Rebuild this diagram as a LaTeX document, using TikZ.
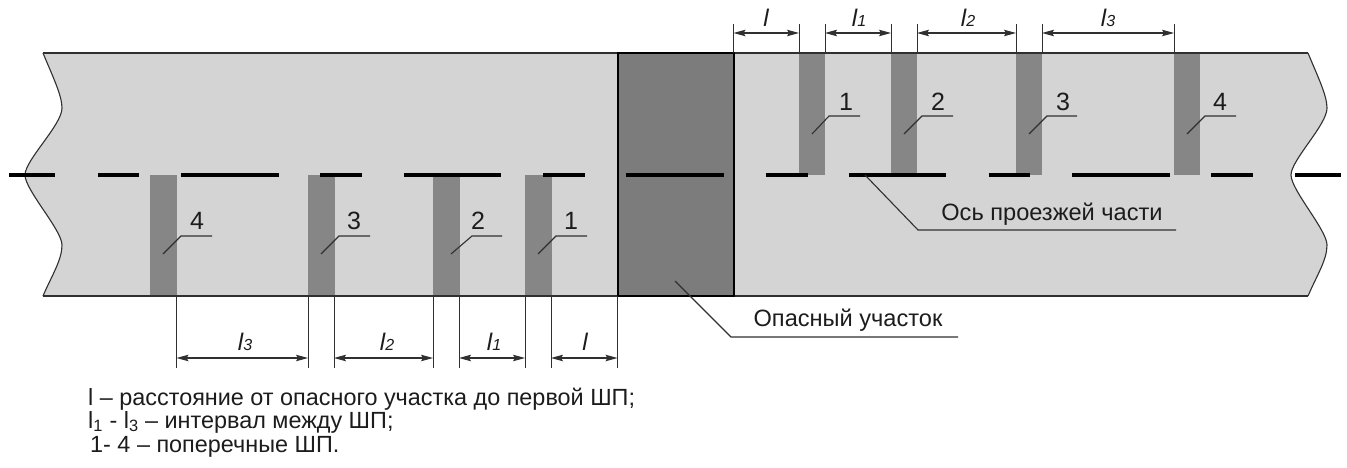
\documentclass[tikz,border=0pt]{standalone}
\usepackage{fontspec}
\setmainfont{Liberation Sans}
\usetikzlibrary{arrows.meta}
\definecolor{roadc}{HTML}{D4D4D4}
\definecolor{barc}{HTML}{868686}
\definecolor{hazc}{HTML}{7C7C7C}
\definecolor{edgec}{HTML}{303030}
\definecolor{txtc}{HTML}{1C1C1C}
\tikzset{
  x=1pt,y=-1pt,
  axisdash/.style={line width=3.8pt,black},
  roadedge/.style={line width=1.4pt,edgec},
  wave/.style={line width=1.1pt,edgec},
  stripe/.style={fill=barc,draw=none},
  leader/.style={line width=1.1pt,edgec},
  extline/.style={line width=0.95pt,edgec},
  dimline/.style={line width=1.1pt,edgec,{Stealth[length=12pt,width=6.5pt,inset=2pt]}-{Stealth[length=12pt,width=6.5pt,inset=2pt]}},
  numlab/.style={font=\fontsize{25}{27}\selectfont,text=txtc,inner sep=0pt},
  lab/.style={font=\fontsize{23.6}{26}\selectfont,text=txtc,inner sep=0pt},
  dimlab/.style={font=\fontsize{24}{26}\selectfont\itshape,text=txtc,inner sep=0pt},
  captxt/.style={font=\fontsize{23.4}{26}\selectfont,text=txtc,inner sep=0pt,anchor=base west},
}
\newcommand{\subl}[1]{l\kern0.2pt{\fontsize{16}{18}\selectfont #1}}
\begin{document}
\begin{tikzpicture}
\useasboundingbox[fill=white] (0,0) rectangle (1347,468);
% road
\fill[roadc] (43,53) .. controls (52,75) and (62,95) .. (62,108) .. controls (62,125) and (25,160) .. (25,175) .. controls (25,190) and (62,230) .. (62,245) .. controls (62,260) and (52,275) .. (43,296)
 -- (1308,296) .. controls (1317,275) and (1327,260) .. (1327,245) .. controls (1327,230) and (1291,190) .. (1291,175) .. controls (1291,160) and (1327,125) .. (1327,108) .. controls (1327,95) and (1317,75) .. (1308,53) -- cycle;
% stripes
\foreach \a in {150,308,433,525} \fill[stripe] (\a,175) rectangle (\a+26.5,296);
\foreach \a in {799,891,1016,1174} \fill[stripe] (\a,53) rectangle (\a+26,175);
% road edges
\draw[wave] (43,53) .. controls (52,75) and (62,95) .. (62,108) .. controls (62,125) and (25,160) .. (25,175) .. controls (25,190) and (62,230) .. (62,245) .. controls (62,260) and (52,275) .. (43,296);
\draw[wave] (1308,53) .. controls (1317,75) and (1327,95) .. (1327,108) .. controls (1327,125) and (1291,160) .. (1291,175) .. controls (1291,190) and (1327,230) .. (1327,245) .. controls (1327,260) and (1317,275) .. (1308,296);
\draw[roadedge] (43,53) -- (1308,53);
\draw[roadedge] (43,296) -- (1308,296);
% hazard
\node[draw=black,line width=2pt,fill=hazc,minimum width=116pt,minimum height=243pt,inner sep=0pt,anchor=north west] (haz) at (616.5,52) {};
% axis
\foreach \a/\b in {9/55,98/139,181/279,320/362,404/501,543/585,626/724,766/808,849/946,989/1030,1072/1170,1211/1253,1295/1341}
  \draw[axisdash] (\a,175) -- (\b,175);
% extension lines top
\foreach \a in {733.5,799,825,891,917,1016,1042,1174}
  \draw[extline] (\a,24) -- (\a,53);
% extension lines bottom
\foreach \a in {176.5,308,334,433,459,525,551,617.5}
  \draw[extline] (\a,296) -- (\a,368);
% dims
\coordinate (ta0) at (733.5,33); \coordinate (tb0) at (799,33);
\coordinate (ta1) at (825,33); \coordinate (tb1) at (891,33);
\coordinate (ta2) at (917,33); \coordinate (tb2) at (1016,33);
\coordinate (ta3) at (1042,33); \coordinate (tb3) at (1174,33);
\coordinate (ba3) at (176.5,358); \coordinate (bb3) at (308,358);
\coordinate (ba2) at (334,358); \coordinate (bb2) at (433,358);
\coordinate (ba1) at (459,358); \coordinate (bb1) at (525,358);
\coordinate (ba0) at (551,358); \coordinate (bb0) at (617.5,358);
\foreach \i in {0,1,2,3} {
  \draw[dimline] (ta\i) -- (tb\i);
  \draw[dimline] (ba\i) -- (bb\i);
}
\node[dimlab] (tl0) at (766,18) {l};
\node[dimlab] (tl1) at (859,18) {\subl{1}};
\node[dimlab] (tl2) at (968,18) {\subl{2}};
\node[dimlab] (tl3) at (1108,18) {\subl{3}};
\node[dimlab] (bl3) at (245,342) {\subl{3}};
\node[dimlab] (bl2) at (387,342) {\subl{2}};
\node[dimlab] (bl1) at (494,342) {\subl{1}};
\node[dimlab] (bl0) at (585,342) {l};
% stripe numbers and leaders
\foreach \tip/\kn/\en/\tx/\n/\nm in {812/829/860/846/1/ra,904/922/953/938/2/rb,1029/1047/1077/1063/3/rc,1187/1205/1236/1220/4/rd} {
  \node[numlab] (\nm) at (\tx,102) {\n};
  \draw[leader] (\tip,134) -- (\kn,116) -- (\en,116);
}
\foreach \tip/\kn/\en/\tx/\n/\nm in {163/181/212/197/4/la,321/339/370/354/3/lb,451/472/502/478/2/lc,538/556/587/571/1/ld} {
  \node[numlab] (\nm) at (\tx,221) {\n};
  \draw[leader] (\tip,254) -- (\kn,236) -- (\en,236);
}
% axis label
\node[lab] (axl) at (1052,214) {Ось проезжей части};
\coordinate (axa) at (865,175); \coordinate (axb) at (918,230); \coordinate (axc) at (1176,230);
\draw[leader] (axa) -- (axb) -- (axc);
% hazard label
\node[lab] (hzl) at (848,320) {Опасный участок};
\coordinate (hza) at (675,281); \coordinate (hzb) at (731,337); \coordinate (hzc) at (958,337);
\draw[leader] (hza) -- (hzb) -- (hzc);
% caption
\node[captxt] (c1) at (88,405) {l – расстояние от опасного участка до первой ШП;};
\node[captxt] (c2) at (88,428) {l\textsubscript{1} - l\textsubscript{3} – интервал между ШП;};
\node[captxt] (c3) at (90,452) {1- 4 – поперечные ШП.};
\end{tikzpicture}
\end{document}
